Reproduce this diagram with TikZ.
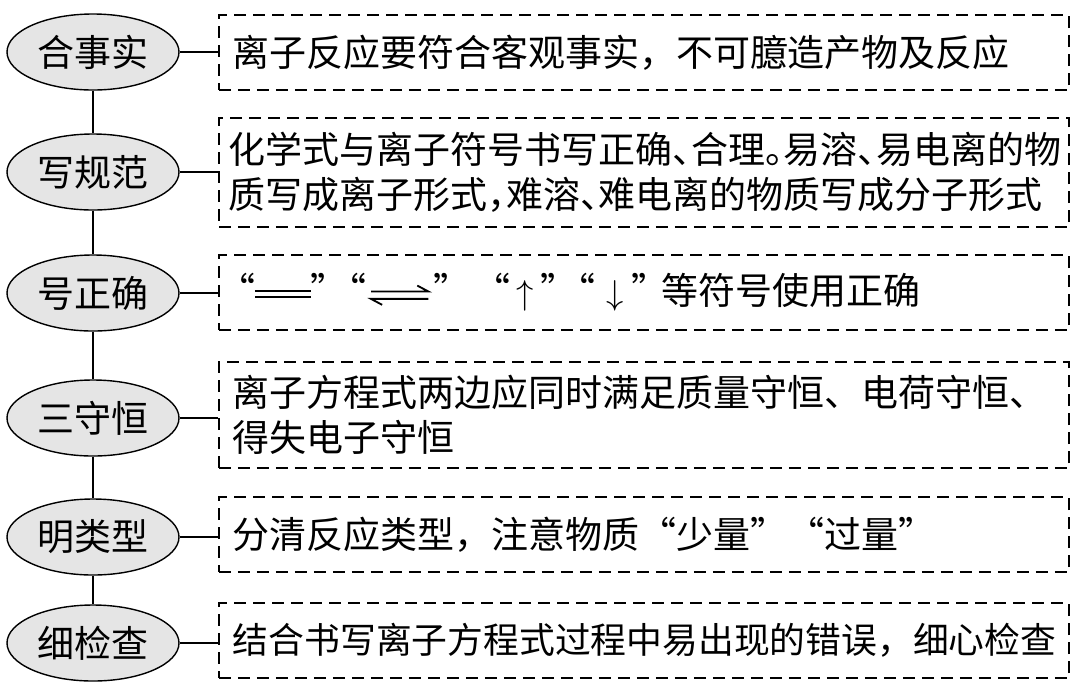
\documentclass[tikz,border=0pt]{standalone}
\usepackage{fontspec}
\usetikzlibrary{shapes.geometric}
\setmainfont{Noto Sans CJK SC}
\newfontfamily\halfpunct[RawFeature=+halt]{Noto Sans CJK SC}
\newcommand{\hp}[1]{{\halfpunct #1}}
\newcommand{\longeq}{\rlap{\rule[0.34em]{1.5em}{0.05em}}\rule[0.18em]{1.5em}{0.05em}}
\newcommand{\eqharp}{\tikz[baseline=0pt, x=1em, y=1em]{\draw[line width=0.05em] (0,0.36) -- (1.55,0.36) -- (1.25,0.52); \draw[line width=0.05em] (1.55,0.16) -- (0,0.16) -- (0.3,0);}}

\begin{document}
\begin{tikzpicture}
[x = 0.5pt,
y = -0.5pt,
every node/.style = {font=\fontsize{18.5pt}{22.5pt}\selectfont},
topic/.style = {ellipse, draw, line width=0.7pt, fill=black!10, minimum width=86pt, minimum height=38pt, inner sep=0pt},
note/.style = {draw, dash pattern=on 6pt off 3.5pt, line width=0.9pt, anchor=west, text width=411pt, inner xsep=7pt, inner ysep=0pt, align=left}]
\useasboundingbox (0,0) rectangle (1080,692);

\node[topic] (s1) at (93,52) {合事实};
\node[topic] (s2) at (93,172) {写规范};
\node[topic] (s3) at (93,293) {号正确};
\node[topic] (s4) at (93,418) {三守恒};
\node[topic] (s5) at (93,537) {明类型};
\node[topic] (s6) at (93,643) {细检查};

\node[note, minimum height=37.5pt] (t1) at (218,52.5) {离子反应要符合客观事实，不可臆造产物及反应};
\node[note, minimum height=54.5pt, inner xsep=5pt, text width=415pt] (t2) at (218,172.5) {化学式与离子符号书写正确\hp{、}合理\hp{。}易溶\hp{、}易电离的物\\质写成离子形式\hp{，}难溶\hp{、}难电离的物质写成分子形式};
\node[note, minimum height=37.5pt, inner xsep=9pt, text width=407pt] (t3) at (218,292.5) {\hp{“}\longeq\hp{”}\hspace{0.5em}\hp{“}\hspace{0.1em}\eqharp\hspace{0.1em}\hp{”}\hspace{1.1em}\hp{“}\,$\uparrow$\,\hp{”}\hspace{0.5em}\hp{“}\hspace{0.3em}$\downarrow$\hspace{0.2em}\hp{”}\hspace{0.3em}等符号使用正确};
\node[note, minimum height=53pt] (t4) at (218,415) {离子方程式两边应同时满足质量守恒、电荷守恒、\\得失电子守恒};
\node[note, minimum height=37.5pt] (t5) at (218,534.5) {分清反应类型，注意物质“少量”“过量”};
\node[note, minimum height=37.5pt, font=\fontsize{17.9pt}{22.5pt}\selectfont] (t6) at (218,640.5) {结合书写离子方程式过程中易出现的错误，细心检查};

\draw[line width=0.75pt] (s1.south) -- (s2.north);
\draw[line width=0.75pt] (s2.south) -- (s3.north);
\draw[line width=0.75pt] (s3.south) -- (s4.north);
\draw[line width=0.75pt] (s4.south) -- (s5.north);
\draw[line width=0.75pt] (s5.south) -- (s6.north);

\draw[line width=0.75pt] (s1.east) -- (s1.east -| t1.west);
\draw[line width=0.75pt] (s2.east) -- (s2.east -| t2.west);
\draw[line width=0.75pt] (s3.east) -- (s3.east -| t3.west);
\draw[line width=0.75pt] (s4.east) -- (s4.east -| t4.west);
\draw[line width=0.75pt] (s5.east) -- (s5.east -| t5.west);
\draw[line width=0.75pt] (s6.east) -- (s6.east -| t6.west);
\end{tikzpicture}
\end{document}
